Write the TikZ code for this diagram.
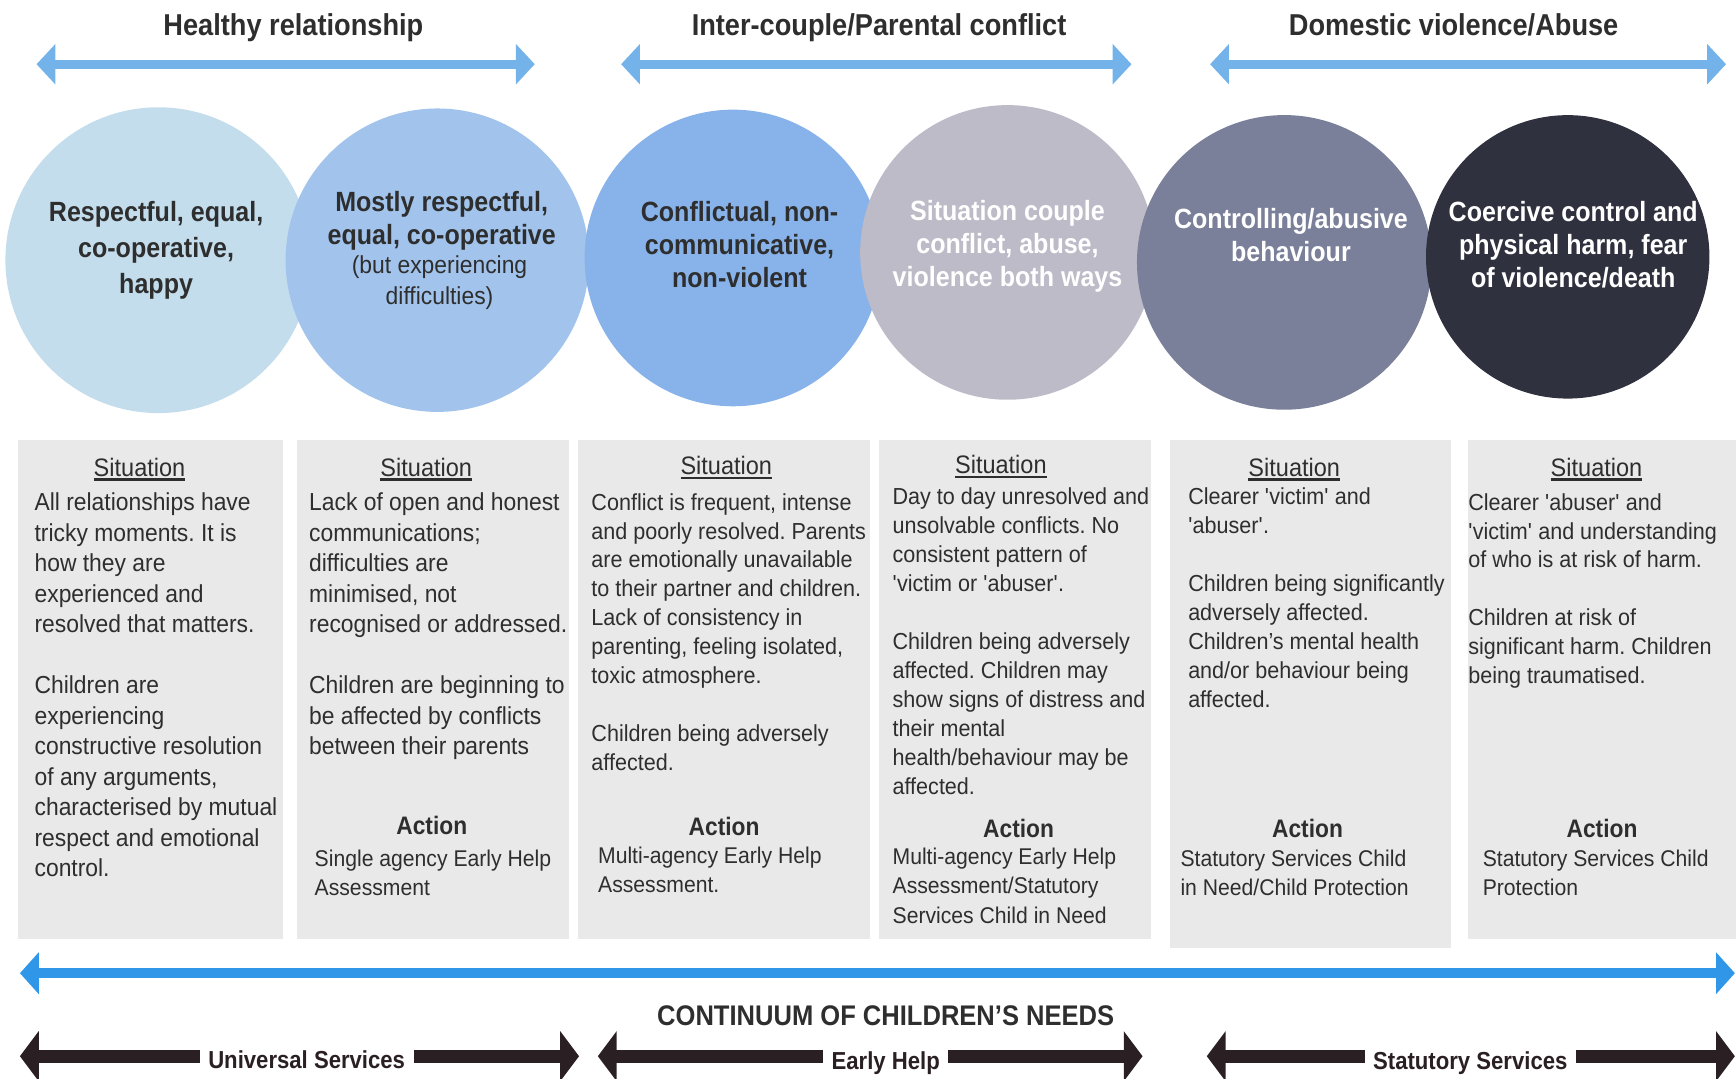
\documentclass[tikz,border=0pt]{standalone}
\usepackage{fontspec}
\newfontfamily\bodyfont{Liberation Sans}[FakeStretch=0.93]
\newfontfamily\headfont{Liberation Sans}[FakeStretch=0.9]
\usetikzlibrary{arrows.meta}
\frenchspacing

\definecolor{ink}{HTML}{2E2E2E}
\definecolor{topblue}{HTML}{74B3EA}
\definecolor{needblue}{HTML}{2F96E8}
\definecolor{servdark}{HTML}{2A2024}
\definecolor{panel}{HTML}{E9E9E9}
\definecolor{bubA}{HTML}{C3DDEC}
\definecolor{bubB}{HTML}{A2C4EC}
\definecolor{bubC}{HTML}{88B2EA}
\definecolor{bubD}{HTML}{BDBBC8}
\definecolor{bubE}{HTML}{7A8099}
\definecolor{bubF}{HTML}{30313F}

\newcommand{\undl}[1]{\vtop{\hbox{#1}\kern1.3pt\hrule height 1.7pt}}
\newcommand{\sq}{\textquotesingle}
% rows hung from the first baseline
\newcommand{\rowsl}[1]{\begin{tabular}[t]{@{}l@{}}#1\end{tabular}}
\newcommand{\rowsc}[1]{\begin{tabular}[t]{@{}c@{}}#1\end{tabular}}

\begin{document}
\begin{tikzpicture}[x=0.0277cm, y=-0.0277cm,
    title/.style = {anchor=base, text=ink, font=\headfont\bfseries\fontsize{21.5}{26}\selectfont},
    bubble/.style = {circle, inner sep=0pt},
    bubtext/.style = {anchor=base, inner sep=0pt, font=\headfont\bfseries\fontsize{19.8}{#1}\selectfont},
    bubtext/.default = 23.6,
    sit/.style = {anchor=base, inner sep=0pt, text=ink, font=\bodyfont\fontsize{18}{22}\selectfont},
    body/.style = {anchor=base west, inner sep=0pt, text=ink, font=\bodyfont\fontsize{16.5}{#1}\selectfont},
    body/.default = 20.6,
    bodywide/.style = {anchor=base west, inner sep=0pt, text=ink, font=\bodyfont\fontsize{17.5}{21.7}\selectfont},
    act/.style = {anchor=base, inner sep=0pt, text=ink, font=\headfont\bfseries\fontsize{18}{22}\selectfont},
    acttext/.style = {anchor=base west, inner sep=0pt, text=ink, font=\bodyfont\fontsize{16.2}{#1}\selectfont},
    acttext/.default = 20.3,
    band/.style = {line width=6.3pt, color=topblue, >={Triangle[width=28pt,length=13.4pt]}, <->},
    need/.style = {line width=7.1pt, color=needblue, >={Triangle[width=29pt,length=13.4pt]}, <->},
    serv/.style = {line width=9.5pt, color=servdark, >={Triangle[width=35pt,length=13.4pt]}, <->},
    servlabel/.style = {anchor=base, fill=white, text=servdark, inner xsep=6pt, inner ysep=2pt, font=\headfont\bfseries\fontsize{17.5}{21}\selectfont}]
\useasboundingbox (0,0) rectangle (1568,973.7);

% Headings and bands
\node[title] (h1) at (265,32) {Healthy relationship};
\node[title] (h2) at (794,32) {Inter-couple/Parental conflict};
\node[title] (h3) at (1313,32) {Domestic violence/Abuse};
\coordinate (l1) at (33,58);   \coordinate (r1) at (483,58);
\coordinate (l2) at (561,58);  \coordinate (r2) at (1022,58);
\coordinate (l3) at (1093,58); \coordinate (r3) at (1559,58);
\draw[band] (l1) -- (r1);
\draw[band] (l2) -- (r2);
\draw[band] (l3) -- (r3);

% Bubbles
\node[bubble, fill=bubA, minimum size=7.65cm] (c1) at (143,235) {};
\node[bubble, fill=bubB, minimum size=7.59cm] (c2) at (395,235) {};
\node[bubble, fill=bubC, minimum size=7.42cm] (c3) at (662,233) {};
\node[bubble, fill=bubD, minimum size=7.37cm] (c4) at (910,228) {};
\node[bubble, fill=bubE, minimum size=7.37cm] (c5) at (1160,237) {};
\node[bubble, fill=bubF, minimum size=7.09cm] (c6) at (1416,232) {};
\node[bubtext=25.6, text=ink] (t1) at (141,200) {\rowsc{Respectful, equal,\\co-operative,\\happy}};
\node[bubtext, text=ink] (t2) at (399,191) {\rowsc{Mostly respectful,\\equal, co-operative}};
\node[anchor=base, inner sep=0pt, text=ink, font=\bodyfont\fontsize{17.5}{22.4}\selectfont] (t2b) at (397,247) {\rowsc{(but experiencing\\difficulties)}};
\node[bubtext, text=ink] (t3) at (668,200) {\rowsc{Conflictual, non-\\communicative,\\non-violent}};
\node[bubtext, text=white] (t4) at (910,199) {\rowsc{Situation couple\\conflict, abuse,\\violence both ways}};
\node[bubtext, text=white] (t5) at (1166,206) {\rowsc{Controlling/abusive\\behaviour}};
\node[bubtext, text=white] (t6) at (1421,200) {\rowsc{Coercive control and\\physical harm, fear\\of violence/death}};

% Panels
\fill[panel] (16,397) rectangle (256,848);
\fill[panel] (268,397) rectangle (514,848);
\fill[panel] (522,397) rectangle (786,848);
\fill[panel] (794,397) rectangle (1040,848);
\fill[panel] (1057,397) rectangle (1311,856);
\fill[panel] (1326,397) rectangle (1568,848);

% Panel texts
\node[sit] (s1) at (126,430) {\undl{Situation}};
\node[bodywide] (b1) at (31,461.5) {\rowsl{All relationships have\\tricky moments. It is\\how they are\\experienced and\\resolved  that matters.\\ \\Children are\\experiencing\\constructive resolution\\of any arguments,\\characterised by mutual\\respect and emotional\\control.}};

\node[sit] (s2) at (385,430) {\undl{Situation}};
\node[bodywide] (b2) at (279,461.5) {\rowsl{Lack of open and honest\\communications;\\difficulties are\\minimised, not\\recognised or addressed.\\ \\Children are beginning to\\be affected by conflicts\\between their parents}};
\node[act] (a2) at (390,754) {Action};
\node[acttext] (p2) at (284,783) {\rowsl{Single agency Early Help\\Assessment}};

\node[sit] (s3) at (656,429) {\undl{Situation}};
\node[body] (b3) at (534,460.7) {\rowsl{Conflict is frequent, intense\\and poorly resolved. Parents\\are emotionally unavailable\\to their partner and children.\\Lack of consistency in\\parenting, feeling isolated,\\toxic atmosphere.\\ \\Children being adversely\\affected.}};
\node[act] (a3) at (654,755) {Action};
\node[acttext] (p3) at (540,780) {\rowsl{Multi-agency Early Help\\Assessment.}};

\node[sit] (s4) at (904,428) {\undl{Situation}};
\node[body] (b4) at (806,456) {\rowsl{Day to day unresolved and\\unsolvable conflicts. No\\consistent pattern of\\\sq victim or \sq abuser\sq.\\ \\Children being adversely\\affected. Children may\\show signs of distress and\\their mental\\health/behaviour may be\\affected.}};
\node[act] (a4) at (920,756) {Action};
\node[acttext=20.8] (p4) at (806,781) {\rowsl{Multi-agency Early Help\\Assessment/Statutory\\Services Child in Need}};

\node[sit] (s5) at (1169,430) {\undl{Situation}};
\node[body] (b5) at (1073,456) {\rowsl{Clearer \sq victim\sq{} and\\\sq abuser\sq.\\ \\Children being significantly\\adversely affected.\\Children’s mental health\\and/or behaviour being\\affected.}};
\node[act] (a5) at (1181,756) {Action};
\node[acttext] (p5) at (1066,783) {\rowsl{Statutory Services Child\\in Need/Child Protection}};

\node[sit] (s6) at (1442,430) {\undl{Situation}};
\node[body] (b6) at (1326,460.7) {\rowsl{Clearer \sq abuser\sq{} and\\\sq victim\sq{} and understanding\\of who is at risk of harm.\\ \\Children at risk of\\significant harm. Children\\being traumatised.}};
\node[act] (a6) at (1447,756) {Action};
\node[acttext] (p6) at (1339,783) {\rowsl{Statutory Services Child\\Protection}};

% Continuum
\coordinate (nl) at (18,879); \coordinate (nr) at (1567,879);
\draw[need] (nl) -- (nr);
\node[title, font=\headfont\bfseries\fontsize{20.2}{24}\selectfont] (cn) at (800,926) {CONTINUUM OF CHILDREN’S NEEDS};

% Services
\coordinate (ul) at (18,954);   \coordinate (ur) at (523,954);
\coordinate (el) at (540,954);  \coordinate (er) at (1032,954);
\coordinate (sl) at (1090,954); \coordinate (sr) at (1567,954);
\draw[serv] (ul) -- (ur);
\draw[serv] (el) -- (er);
\draw[serv] (sl) -- (sr);
\node[servlabel] (us) at (277,965) {Universal Services};
\node[servlabel] (eh) at (800,966) {Early Help};
\node[servlabel] (ss) at (1328,966) {Statutory Services};
\end{tikzpicture}
\end{document}
